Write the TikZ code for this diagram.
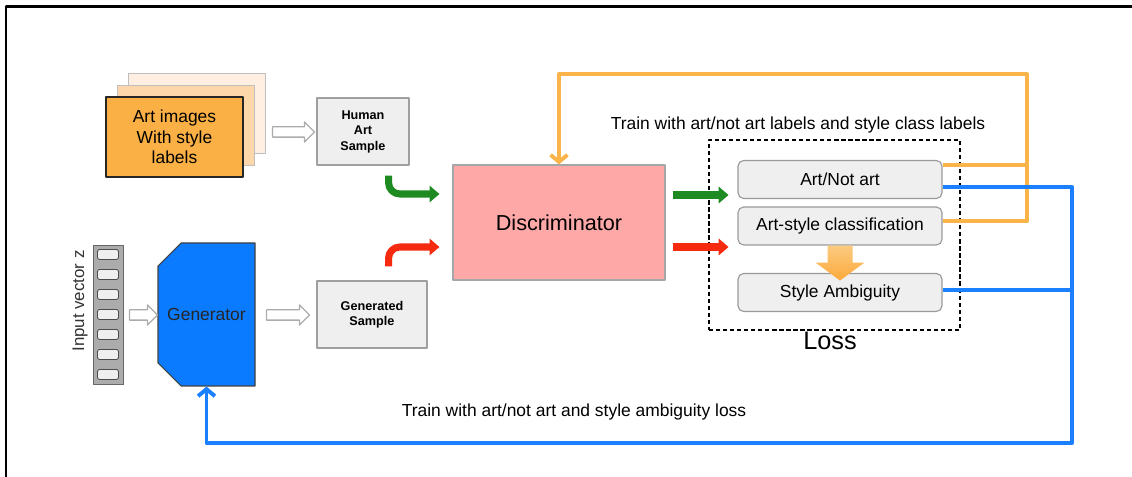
\documentclass[tikz,border=0pt]{standalone}
\usepackage{fontspec}
\setmainfont{Liberation Sans}
\usetikzlibrary{
	calc, positioning,
	arrows.meta,
	shapes.misc, shapes.arrows
}
% un píxel de la imagen original
\def\pxu{0.025cm}

% colores
\definecolor{hojaA}{HTML}{FAB045}
\definecolor{hojaB}{HTML}{FDD7A9}
\definecolor{hojaC}{HTML}{FEEFE2}
\definecolor{cajagris}{HTML}{EFEFEF}
\definecolor{rosa}{HTML}{FFA8A8}
\definecolor{genazul}{HTML}{0A7BFF}
\definecolor{verde}{HTML}{1E8A22}
\definecolor{rojo}{HTML}{F52A0E}
\definecolor{naranja}{HTML}{FBB44A}
\definecolor{azul}{HTML}{1A80FF}

\begin{document}
\begin{tikzpicture}[
	% Propiedades generales del dibujo
	x = \pxu, y = -\pxu,
	line join = round,
	font = \fontsize{12.4}{14.5}\selectfont,
	% Definición de nuevos estilos
	% 	a. hojas de imágenes
	sheet/.style = {
		rectangle, fill = #1, draw = gray!50,
		minimum width = 137*\pxu, minimum height = 80*\pxu,
		inner sep = 0pt
	},
	%	b. muestras
	sample/.style = {
		rectangle, fill = cajagris, draw = gray!75, line width = 0.8pt,
		minimum width = 92*\pxu, minimum height = 67*\pxu,
		align = center, font = \fontsize{9}{11}\selectfont\bfseries
	},
	%	c. salidas de la pérdida
	output/.style = {
		rectangle, rounded corners = 4pt,
		fill = cajagris, draw = gray!80, line width = 0.8pt,
		minimum width = 204*\pxu, minimum height = 38*\pxu
	},
	%	d. flechas huecas (#1: longitud)
	hollow/.style = {
		single arrow, draw = gray!65, fill = white, line width = 0.9pt,
		minimum height = #1*\pxu,
		single arrow head extend = 5*\pxu, single arrow head indent = 0pt,
		inner xsep = 0pt, inner ysep = 4.5*\pxu
	},
	%	e. flechas gruesas de flujo
	flow/.style = {
		draw = #1, line width = 5pt, rounded corners = 8pt,
		arrows = -{Triangle[length = 7pt, width = 11.5pt]}
	},
	%	f. líneas de realimentación
	feedback/.style = {
		draw = #1, line width = 2.8pt
	},
	%	g. punta de las realimentaciones
	barb/.style = {
		arrows = -{Straight Barb[length = 5pt, width = 12pt]}
	},
]

	% márgenes del dibujo
	\useasboundingbox (0,0) rectangle (1132,477);
	\draw[line width = 1.8pt] (6,477) -- (6,6.5) -- (1132,6.5);

	% imágenes de arte
	\node[sheet = hojaC] (art3) at (196.5,113) {};
	\node[sheet = hojaB] (art2) at (185.5,125) {};
	\node[sheet = hojaA, draw = black!85, line width = 1.4pt, align = center]
		(art) at (174.5,137) {Art images\\With style\\labels};

	% muestras
	\node[sample] (human) at (363,131.5) {Human\\Art\\Sample};
	\node[sample, minimum width = 110*\pxu] (gensample) at (372,314.5)
		{Generated\\Sample};

	% vector de entrada
	\node[fill = gray!65, draw = gray!80!black, line width = 0.6pt,
		minimum width = 30*\pxu, minimum height = 139*\pxu, inner sep = 0pt]
		(zvec) at (108,314.5) {};
	\foreach \i in {0,...,6}
		\node[fill = cajagris, draw = gray!60!black, line width = 0.6pt,
			rounded corners = 1.5pt, inner sep = 0pt,
			minimum width = 21*\pxu, minimum height = 10*\pxu]
			(z\i) at (108,{254.5+20*\i}) {};
	\node[rotate = 90, text = black!80, font = \fontsize{12}{14}\selectfont]
		(zlabel) at (80,301) {Input vector z};

	% generador
	\node[chamfered rectangle, chamfered rectangle corners = {north west, south west},
		chamfered rectangle xsep = 17*\pxu, chamfered rectangle ysep = 17*\pxu,
		fill = genazul, draw = gray!50!black, line width = 0.8pt,
		minimum width = 97*\pxu, minimum height = 143*\pxu, inner sep = 0pt,
		text = black!85]
		(gen) at (206.5,314.5) {Generator};

	% discriminador
	\node[fill = rosa, draw = gray!70, line width = 0.8pt,
		minimum width = 212*\pxu, minimum height = 115*\pxu,
		font = \fontsize{15.4}{18}\selectfont]
		(disc) at (559,222.5) {Discriminator};

	% pérdida
	\node[draw, dashed, dash pattern = on 3pt off 2pt, line width = 0.8pt,
		minimum width = 251*\pxu, minimum height = 190*\pxu]
		(loss) at (834.5,235) {};
	\node[font = \fontsize{18}{20}\selectfont] (losslabel) at (830,341) {Loss};
	\node[output] (artnot) at (840,179.5) {Art/Not art};
	\node[output] (artstyle) at (840,226) {Art-style classification};
	\node[output] (ambig) at (840,292.5) {Style Ambiguity};

	% textos
	\node (toptext) at (798,125) {Train with art/not art labels and style class labels};
	\node (bottext) at (574,412) {Train with art/not art and style ambiguity loss};

	% flechas huecas
	\node[hollow = 42] (a2h) at (291,132) {};
	\node[hollow = 28] (z2g) at (141,315) {};
	\node[hollow = 43] (g2s) at (285.5,315) {};

	% flechas de las muestras al discriminador
	\draw[flow = verde]
		($(human.south east)+(-21,10)$) |- ($(disc.west)+(-13,-28.5)$);
	\draw[flow = rojo]
		($(gensample.north east)+(-39,-14)$) |- ($(disc.west)+(-13,24.5)$);
	\draw[flow = verde, rounded corners = 0pt]
		($(disc.east)+(7,-27.5)$) -- ++(56,0);
	\draw[flow = rojo, rounded corners = 0pt]
		($(disc.east)+(7,24.5)$) -- ++(56,0);

	% flecha de estilo a ambigüedad
	\shade[top color = naranja!70, bottom color = naranja!80!orange]
		($(artstyle.south)+(-12.5,0)$) -- ++(25,0) -- ++(0,17) -- ++(12,0)
		-- ++(-24.5,18) -- ++(-24.5,-18) -- ++(12,0) -- cycle;

	% realimentación naranja
	\coordinate (otop) at (1027,74);
	\coordinate (oa) at ($(artnot.east)+(0,-14.5)$);
	\coordinate (ob) at ($(artstyle.east)+(0,-5)$);
	\draw[feedback = naranja, barb] (ob) -| (otop) -| (disc.north);
	\draw[feedback = naranja] (oa) -- (oa -| otop);

	% realimentación azul
	\coordinate (bcorner) at (1072,443);
	\coordinate (ba) at ($(artnot.east)+(0,7.5)$);
	\coordinate (bb) at ($(ambig.east)+(0,-2.5)$);
	\draw[feedback = azul, barb] (ba) -| (bcorner) -| (gen.south);
	\draw[feedback = azul] (bb) -- (bb -| bcorner);

\end{tikzpicture}
\end{document}
